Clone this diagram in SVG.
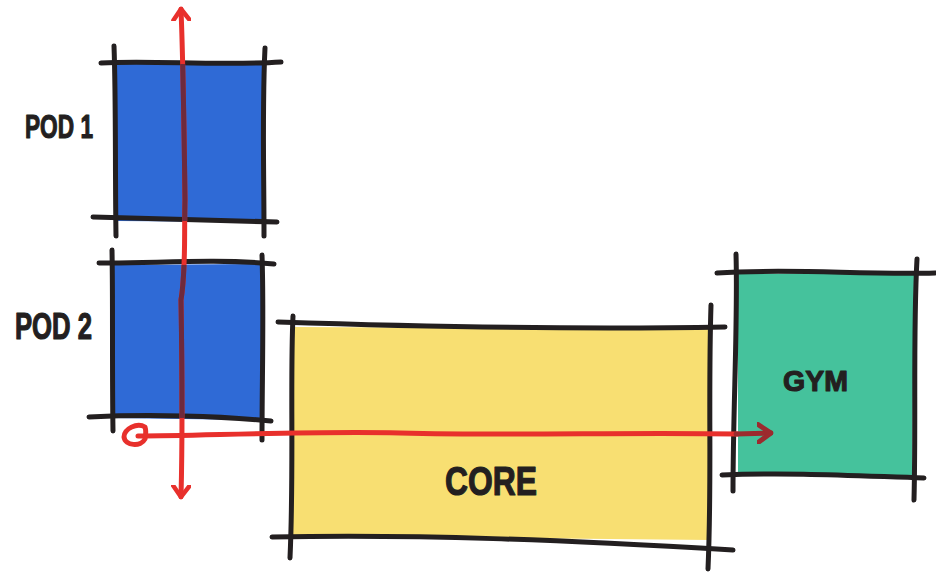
<svg xmlns="http://www.w3.org/2000/svg" width="936" height="572" viewBox="0 0 936 572">
<style>
.ink{fill:none;stroke:#231f20;stroke-width:5;stroke-linecap:round;stroke-linejoin:round}
.red{fill:none;stroke:#e8302c;stroke-width:5;stroke-linecap:round;stroke-linejoin:round}
.dark{fill:none;stroke:#6e2a3c;stroke-width:5;stroke-linecap:round;stroke-linejoin:round}
.lbl{font-family:"Liberation Sans",Arial,sans-serif;font-weight:bold;fill:#231f20;stroke:#231f20;stroke-width:1.2;stroke-linejoin:round}
.blue{fill:#2f6ad6}
.yellow{fill:#f8df72}
.teal{fill:#45c29c}
</style>
<defs>
<marker id="chev" viewBox="-12 -10 14 20" markerWidth="14" markerHeight="20" refX="0" refY="0" orient="auto-start-reverse" markerUnits="userSpaceOnUse">
<path d="M-11,-8 L0,0 L-11,8" fill="none" stroke="#e8302c" stroke-width="4.5" stroke-linecap="round" stroke-linejoin="round"/>
</marker>
<marker id="chevDark" viewBox="-14 -11 16 22" markerWidth="16" markerHeight="22" refX="0" refY="0" orient="auto" markerUnits="userSpaceOnUse">
<path d="M-13,-9 L0,0 L-13,9" fill="none" stroke="#9c2a2e" stroke-width="5" stroke-linecap="round" stroke-linejoin="round"/>
</marker>
<clipPath id="podsClip">
<rect x="117" y="64" width="146" height="157"/>
<rect x="113" y="265" width="149" height="153"/>
</clipPath>
</defs>
<rect width="936" height="572" fill="#ffffff"/>

<g id="pod1">
<path class="blue" d="M117,64 L263,62 L262,222 L117,221 Z"/>
<path class="ink" d="M101,63 C150,60 220,66 281,62"/>
<path class="ink" d="M93,217 C150,219 220,220 277,222"/>
<path class="ink" d="M114,46 C116,100 115,170 116,236"/>
<path class="ink" d="M265,48 C262,110 264,170 264,236"/>
<text class="lbl" x="25" y="138" font-size="34" textLength="68" lengthAdjust="spacingAndGlyphs">POD 1</text>
</g>

<g id="pod2">
<path class="blue" d="M111,265 L262,264 L262,420 L111,418 Z"/>
<path class="ink" d="M99,263 C150,264 210,258 274,264"/>
<path class="ink" d="M89,417 C150,414 220,416 271,421"/>
<path class="ink" d="M112,250 C113,300 112,370 113,431"/>
<path class="ink" d="M262,255 C264,310 262,380 262,440"/>
<text class="lbl" x="15" y="339" font-size="36" textLength="77" lengthAdjust="spacingAndGlyphs">POD 2</text>
</g>

<g id="core">
<path class="yellow" d="M292,327 L710,329 L710,540 L292,536 Z"/>
<path class="ink" d="M278,322 C400,326 560,330 725,327"/>
<path class="ink" d="M272,537 C420,534 560,540 733,550"/>
<path class="ink" d="M293,316 C290,380 294,470 290,558"/>
<path class="ink" d="M711,305 C708,400 712,480 708,569"/>
<text class="lbl" x="445" y="495" font-size="40" textLength="92" lengthAdjust="spacingAndGlyphs">CORE</text>
</g>

<g id="gym">
<path class="teal" d="M738,274 L914,273 L912,475 L738,476 Z"/>
<path class="ink" d="M717,273 C790,268 860,275 935,273"/>
<path class="ink" d="M722,475 C790,472 860,476 924,478"/>
<path class="ink" d="M736,254 C738,320 733,410 733,491"/>
<path class="ink" d="M917,259 C913,330 916,420 914,500"/>
<text class="lbl" x="783" y="391" font-size="30" textLength="65" lengthAdjust="spacingAndGlyphs">GYM</text>
</g>

<g id="connectors">
<path class="red" d="M181,497 C183,420 182,360 181,300 C186,270 184,240 185,200 C184,120 183,60 181,9" marker-start="url(#chev)" marker-end="url(#chev)"/>
<path class="dark" clip-path="url(#podsClip)" d="M181,497 C183,420 182,360 181,300 C186,270 184,240 185,200 C184,120 183,60 181,9"/>
<path class="red" d="M138,436 C200,436 300,431 400,433 C520,436 620,432 738,434"/>
<path d="M736,434 L771,433" fill="none" stroke="#9c2a2e" stroke-width="5" stroke-linecap="round" marker-end="url(#chevDark)"/>
<path class="red" d="M145,427 C137,422 124,429 124,437 C125,446 141,447 145,439 C146,434 146,430 145,427 Z"/>
</g>
</svg>
